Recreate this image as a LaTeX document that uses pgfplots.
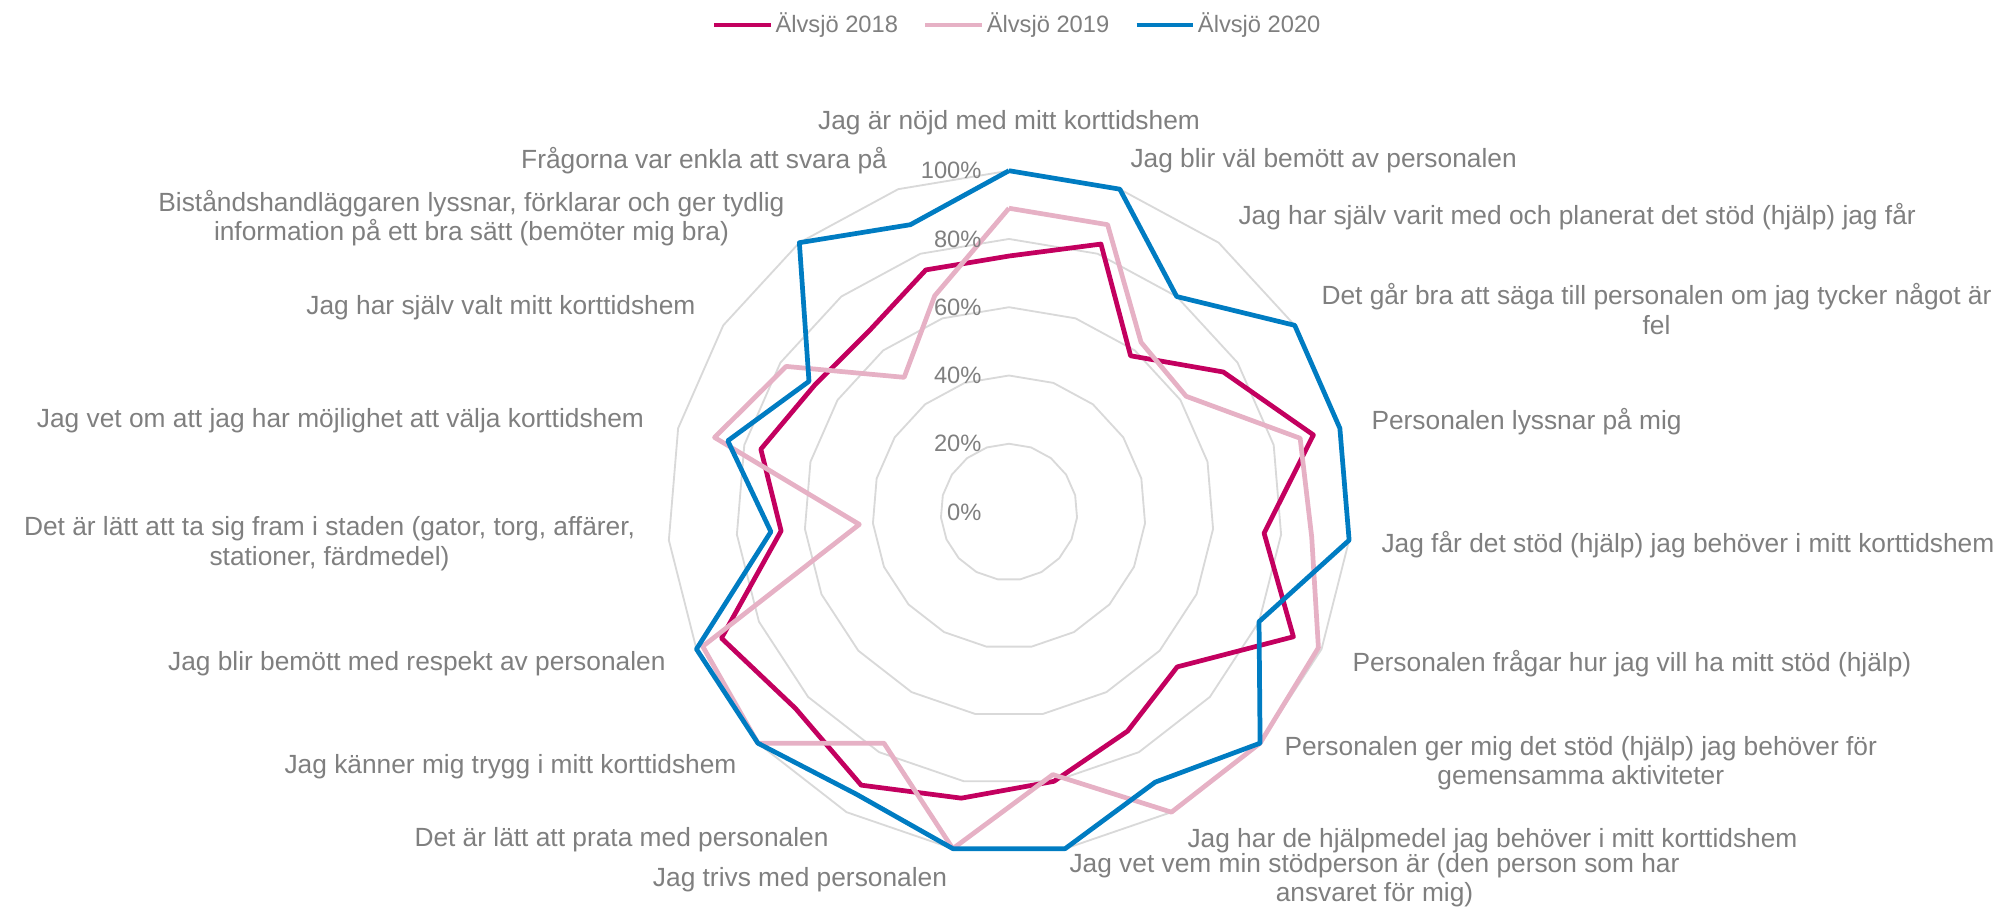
\documentclass[border=0pt]{standalone}
\usepackage{fontspec}
\setmainfont{Liberation Sans}
\usepackage{pgfplots}
\usepackage{pgfplotstable}
\pgfplotsset{compat=1.18}
\usepgfplotslibrary{polar}

\definecolor{c18}{HTML}{C3005F}
\definecolor{c19}{HTML}{E6B1C5}
\definecolor{c20}{HTML}{007CC2}
\definecolor{txt}{HTML}{7F7F7F}
\definecolor{gridc}{HTML}{D9D9D9}

% i = question index, clockwise from the top; row 19 closes the loop
\pgfplotstableread{
i  a18 a19 a20
0  75  89  100
1  83  89  100
2  58  63  80
3  75  62  100
4  92  88  100
5  75  89  100
6  91  99  80
7  67  100 100
8  73  100 90
9  80  78  100
10 85  100 100
11 91  77  94
12 85  100 100
13 92  98  100
14 67  44  70
15 75  89  85
16 68  78  70
17 67  50  100
18 75  67  89
19 75  89  100
}\radar

\def\px{0.38pt}

\begin{document}
\begin{tikzpicture}[x=\px, y=\px]
\begin{polaraxis}[
  at={(0,0)}, anchor=center,
  scale only axis, width=259.4pt, height=259.4pt,
  ymin=0, ymax=100,
  hide axis, clip=false,
  legend style={at={(0.512,1.2135)}, anchor=center, draw=none, fill=none,
    legend columns=3, font=\fontsize{9}{10.8}\selectfont, text=txt,
    nodes={inner sep=0.8pt},
    /tikz/every even column/.append style={column sep=8.7pt}},
  legend image code/.code={\draw[#1] (0cm,0cm) -- (0.76cm,0cm);},
]
\pgfplotsinvokeforeach{20,40,60,80,100}{
  \addplot[gridc, line width=0.7pt, forget plot]
    table[x expr=450-\thisrow{i}*360/19, y expr=#1] {\radar};
}
\addplot[c18, line width=1.8pt, line join=round]
  table[x expr=450-\thisrow{i}*360/19, y=a18] {\radar};
\addlegendentry{Älvsjö 2018}
\addplot[c19, line width=1.8pt, line join=round]
  table[x expr=450-\thisrow{i}*360/19, y=a19] {\radar};
\addlegendentry{Älvsjö 2019}
\addplot[c20, line width=1.8pt, line join=round]
  table[x expr=450-\thisrow{i}*360/19, y=a20] {\radar};
\addlegendentry{Älvsjö 2020}
\end{polaraxis}

% radial tick labels
\begin{scope}[every node/.style={anchor=east, inner sep=0pt, text=txt, font=\fontsize{9}{10.8}\selectfont}]
\node at (-27,0) {0\%};
\node at (-27,68.3) {20\%};
\node at (-27,136.5) {40\%};
\node at (-27,204.8) {60\%};
\node at (-27,273) {80\%};
\node at (-27,341.3) {100\%};
\end{scope}

% category labels
\begin{scope}[every node/.style={inner sep=0pt, text=txt, align=center, font=\fontsize{10}{11.2}\selectfont}]
\node[anchor=center] at (0,389) {Jag är nöjd med mitt korttidshem};
\node[anchor=west] at (121,351) {Jag blir väl bemött av personalen};
\node[anchor=west] at (229,295) {Jag har själv varit med och planerat det stöd (hjälp) jag får};
\node[anchor=west] at (312,203) {Det går bra att säga till personalen om jag tycker något är\\fel};
\node[anchor=west] at (362,90) {Personalen lyssnar på mig};
\node[anchor=west] at (372,-33) {Jag får det stöd (hjälp) jag behöver i mitt korttidshem};
\node[anchor=west] at (343,-152) {Personalen frågar hur jag vill ha mitt stöd (hjälp)};
\node[anchor=west] at (275,-251) {Personalen ger mig det stöd (hjälp) jag behöver för\\gemensamma aktiviteter};
\node[anchor=west] at (178,-329) {Jag har de hjälpmedel jag behöver i mitt korttidshem};
\node[anchor=west] at (60,-368) {Jag vet vem min stödperson är (den person som har\\ansvaret för mig)};
\node[anchor=east] at (-61.5,-368) {Jag trivs med personalen};
\node[anchor=east] at (-180,-328) {Det är lätt att prata med personalen};
\node[anchor=east] at (-272,-255) {Jag känner mig trygg i mitt korttidshem};
\node[anchor=east] at (-343,-152) {Jag blir bemött med respekt av personalen};
\node[anchor=east] at (-373.5,-31.5) {Det är lätt att ta sig fram i staden (gator, torg, affärer,\\stationer, färdmedel)};
\node[anchor=east] at (-364.5,91) {Jag vet om att jag har möjlighet att välja korttidshem};
\node[anchor=east] at (-313,204) {Jag har själv valt mitt korttidshem};
\node[anchor=east] at (-224,294) {Biståndshandläggaren lyssnar, förklarar och ger tydlig\\information på ett bra sätt (bemöter mig bra)};
\node[anchor=east] at (-121.6,351) {Frågorna var enkla att svara på};
\end{scope}

\pgfresetboundingbox
\path[use as bounding box] (-1009,512) rectangle (996,-394);
\end{tikzpicture}
\end{document}
